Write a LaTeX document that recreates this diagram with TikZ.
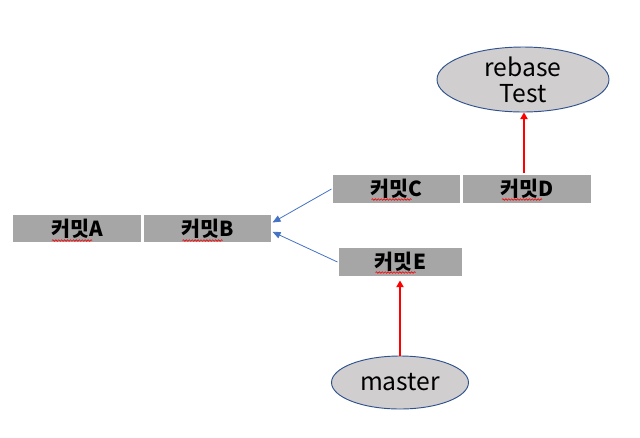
\documentclass[tikz,border=0pt]{standalone}
\usepackage{fontspec}
\setmainfont{Noto Sans CJK KR}
\usetikzlibrary{arrows.meta,shapes.geometric,decorations.pathmorphing,calc}
\definecolor{boxgray}{HTML}{A6A6A6}
\definecolor{ellfill}{HTML}{D0CECE}
\definecolor{ellline}{HTML}{2F528F}
\definecolor{bluearr}{HTML}{4472C4}
\definecolor{redarr}{HTML}{FF0000}
\begin{document}
\begin{tikzpicture}[x=0.75pt,y=-0.75pt,
  commit/.style={draw=white,line width=0.8pt,fill=boxgray,minimum height=21.75pt,inner sep=0pt,font=\fontsize{15.5}{18}\selectfont\bfseries},
  oval/.style={ellipse,draw=ellline,line width=0.7pt,fill=ellfill,inner sep=0pt,font=\fontsize{18.5}{22.5}\selectfont,align=center},
  bluelink/.style={draw=bluearr,line width=0.6pt,-{Triangle[length=6pt,width=5pt]}},
  redlink/.style={draw=redarr,color=redarr,line width=1pt,-{Triangle[length=5pt,width=5.5pt]}},
  squig/.style={draw=red,line width=0.45pt,decorate,decoration={snake,segment length=2.2pt,amplitude=0.6pt}}
]
\useasboundingbox (0,0) rectangle (640,437);
\node[commit,minimum width=97.5pt] (A) at (77,228.5) {커밋A};
\node[commit,minimum width=96.75pt] (B) at (207.5,228.5) {커밋B};
\node[commit,minimum width=96.75pt,minimum height=22.5pt] (C) at (396.5,189) {커밋C};
\node[commit,minimum width=97.5pt,minimum height=22.5pt] (D) at (527,189) {커밋D};
\node[commit,minimum width=93.75pt,minimum height=22.5pt] (E) at (400.5,262) {커밋E};
\node[oval,minimum width=129pt,minimum height=39.75pt] (R) at (523,79.5) {rebase\\[-3pt]Test};
\node[oval,minimum width=102.75pt,minimum height=39.75pt] (M) at (400,382.5) {master};
\coordinate (Etip) at ($(M.north |- E.south)+(0,3)$);
% spell-check squiggles
\foreach \n in {A,B} {\draw[squig] ($(\n.center)+(-25,12)$) -- ($(\n.center)+(15,12)$);}
\foreach \n in {C,D,E} {\draw[squig] ($(\n.center)+(-25,10.5)$) -- ($(\n.center)+(15,10.5)$);}
% connectors
\draw[bluelink] (C.west) -- ([yshift=4.5pt]B.east);
\draw[bluelink] (E.west) -- ([yshift=-2.5pt]B.east);
\draw[redlink] ([xshift=-2.25pt]D.north) -- ([xshift=-2.25pt]D.north |- R.south);
\draw[redlink] (M.north) -- (Etip);
\end{tikzpicture}
\end{document}
